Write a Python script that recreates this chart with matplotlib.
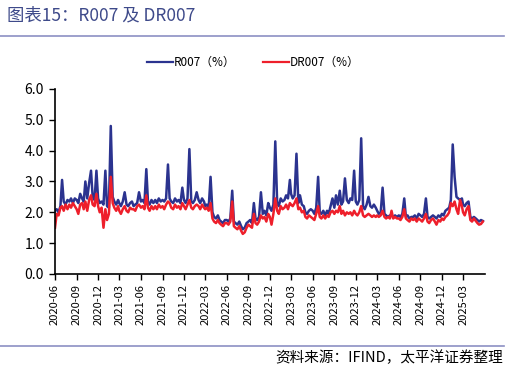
import numpy as np
import pandas as pd
import matplotlib
matplotlib.use('Agg')
import matplotlib.pyplot as plt
import matplotlib.dates as mdates
from matplotlib.lines import Line2D

plt.rcParams['font.family'] = ['Noto Sans CJK SC', 'DejaVu Sans']

# 月份（2020-06 ~ 2025-05），每月4个观测点
months = pd.period_range('2020-06', '2025-05', freq='M')
obs_days = [1, 8, 16, 24]

# R007（%），每行一个月
r007 = [
    2.05, 2.10, 2.00, 2.20,   # 2020-06
    3.05, 2.35, 2.25, 2.40,
    2.35, 2.45, 2.30, 2.45,
    2.40, 2.30, 2.60, 2.45,
    2.35, 3.00, 2.45, 2.95,
    3.35, 2.50, 2.40, 3.35,
    2.45, 2.30, 2.35, 2.25,   # 2020-12
    3.35, 2.20, 2.15, 4.80,
    2.50, 2.35, 2.25, 2.40,
    2.30, 2.20, 2.35, 2.65,
    2.25, 2.20, 2.30, 2.35,
    2.20, 2.25, 2.30, 2.65,
    2.35, 2.40, 2.30, 3.40,   # 2021-06
    2.35, 2.25, 2.40, 2.30,
    2.40, 2.30, 2.45, 2.35,
    2.40, 2.35, 2.45, 3.55,
    2.45, 2.35, 2.30, 2.45,
    2.35, 2.40, 2.30, 2.80,
    2.40, 2.30, 2.45, 4.05,   # 2021-12
    2.35, 2.30, 2.40, 2.65,
    2.40, 2.30, 2.45, 2.35,
    2.20, 2.25, 2.15, 3.15,
    2.00, 1.85, 1.80, 1.90,
    1.75, 1.70, 1.65, 1.75,
    1.75, 1.70, 1.80, 2.70,   # 2022-06
    1.70, 1.65, 1.60, 1.70,
    1.55, 1.45, 1.50, 1.65,
    1.70, 1.75, 1.65, 2.30,
    1.80, 1.75, 1.85, 2.65,
    1.95, 2.05, 1.90, 2.30,
    2.15, 2.05, 2.25, 4.30,   # 2022-12
    2.30, 2.20, 2.45, 2.35,
    2.40, 2.55, 2.45, 3.05,
    2.60, 2.45, 2.55, 3.90,
    2.30, 2.55, 2.25, 2.20,
    2.00, 1.95, 2.05, 2.10,
    2.05, 1.95, 2.15, 3.15,   # 2023-06
    2.00, 1.95, 2.05, 1.90,
    2.05, 1.95, 2.20, 2.45,
    2.15, 2.55, 2.25, 2.70,
    2.25, 2.35, 3.10, 2.40,
    2.30, 2.45, 2.40, 3.35,
    2.35, 2.25, 2.40, 4.40,   # 2023-12
    2.20, 2.10, 2.25, 2.50,
    2.20, 2.15, 2.25, 2.15,
    2.05, 1.95, 2.00, 2.80,
    1.95, 1.90, 1.85, 1.90,
    1.90, 1.85, 1.90, 1.85,
    1.90, 1.85, 1.95, 2.45,   # 2024-06
    1.85, 1.90, 1.80, 1.85,
    1.85, 1.90, 1.80, 1.95,
    1.90, 1.85, 1.95, 2.45,
    1.85, 1.80, 1.85, 1.90,
    1.85, 1.80, 1.90, 1.85,
    1.95, 1.90, 2.05, 2.10,   # 2024-12
    2.15, 2.40, 4.20, 3.15,
    2.50, 2.45, 2.40, 2.45,
    2.25, 2.20, 2.30, 2.35,
    1.85, 1.80, 1.85, 1.80,
    1.75, 1.70, 1.75, 1.72,   # 2025-05
]

# DR007（%）
dr007 = [
    1.50, 1.95, 1.90, 2.15,   # 2020-06
    2.20, 2.05, 2.25, 2.10,
    2.25, 2.15, 2.30, 2.20,
    2.10, 1.95, 2.25, 2.30,
    2.10, 2.35, 2.05, 2.40,
    2.55, 2.25, 2.20, 2.60,
    2.20, 2.00, 2.15, 1.50,   # 2020-12
    2.10, 1.75, 1.95, 3.15,
    2.30, 2.15, 2.05, 2.20,
    2.05, 1.95, 2.10, 2.20,
    2.05, 2.00, 2.15, 2.10,
    2.10, 2.05, 2.20, 2.25,
    2.15, 2.20, 2.10, 2.55,   # 2021-06
    2.15, 2.05, 2.20, 2.10,
    2.20, 2.10, 2.25, 2.15,
    2.20, 2.10, 2.25, 2.35,
    2.30, 2.15, 2.10, 2.25,
    2.15, 2.20, 2.10, 2.30,
    2.20, 2.10, 2.25, 2.40,   # 2021-12
    2.15, 2.10, 2.20, 2.25,
    2.20, 2.10, 2.25, 2.15,
    2.10, 2.15, 2.05, 2.30,
    1.80, 1.70, 1.65, 1.75,
    1.65, 1.60, 1.55, 1.65,
    1.65, 1.60, 1.70, 2.35,   # 2022-06
    1.55, 1.50, 1.45, 1.55,
    1.40, 1.30, 1.35, 1.50,
    1.60, 1.55, 1.50, 1.95,
    1.65, 1.60, 1.70, 1.90,
    1.80, 1.85, 1.70, 1.95,
    1.85, 1.60, 1.95, 2.45,   # 2022-12
    2.05, 1.95, 2.20, 2.10,
    2.15, 2.25, 2.10, 2.30,
    2.25, 2.20, 2.30, 2.45,
    2.10, 2.15, 2.00, 2.05,
    1.85, 1.80, 1.90, 1.85,
    1.80, 1.75, 1.95, 2.20,   # 2023-06
    1.85, 1.80, 1.90, 1.80,
    1.90, 1.85, 2.00, 2.05,
    1.95, 2.05, 2.00, 2.20,
    1.95, 2.05, 1.90, 2.00,
    1.95, 2.00, 1.90, 2.05,
    1.95, 1.90, 2.00, 2.20,   # 2023-12
    1.90, 1.85, 1.90, 1.95,
    1.90, 1.85, 1.90, 1.85,
    1.90, 1.85, 1.90, 2.05,
    1.85, 1.80, 1.85, 1.80,
    2.05, 1.80, 1.85, 1.80,
    1.80, 1.75, 1.85, 2.10,   # 2024-06
    1.80, 1.75, 1.70, 1.80,
    1.75, 1.80, 1.70, 1.80,
    1.75, 1.70, 1.80, 1.95,
    1.70, 1.65, 1.75, 1.80,
    1.70, 1.60, 1.75, 1.70,
    1.80, 1.75, 1.85, 1.90,   # 2024-12
    2.00, 2.30, 2.20, 2.35,
    2.10, 1.95, 2.40, 2.20,
    2.00, 1.90, 2.10, 2.20,
    1.75, 1.70, 1.80, 1.72,
    1.65, 1.60, 1.62, 1.70,   # 2025-05
]

dates = [pd.Timestamp(year=m.year, month=m.month, day=d) for m in months for d in obs_days]

tick_dates = pd.date_range('2020-06-01', '2025-03-01', freq='3MS')

fig = plt.figure(figsize=(5.07, 3.71), dpi=100)
ax = fig.add_axes([0.1085, 0.2615, 0.8485, 0.4987])

c_r = '#2B338F'
c_dr = '#EE1F2B'
ax.plot(dates, r007, color=c_r, lw=1.8)
ax.plot(dates, dr007, color=c_dr, lw=1.8)

ax.set_ylim(0, 6)
ax.set_yticks(np.arange(0, 6.1, 1.0))
ax.yaxis.set_major_formatter(plt.FormatStrFormatter('%.1f'))
ax.set_xlim(pd.Timestamp('2020-06-01'), pd.Timestamp('2025-06-03'))
ax.set_xticks(tick_dates)
ax.xaxis.set_major_formatter(mdates.DateFormatter('%Y-%m'))
for lab in ax.get_xticklabels():
    lab.set_rotation(90)
ax.tick_params(axis='x', direction='out', length=4, width=1, labelsize=8, pad=3)
ax.tick_params(axis='y', direction='out', length=4, width=1, labelsize=10, pad=4)
for s in ['top', 'right']:
    ax.spines[s].set_visible(False)
for s in ['left', 'bottom']:
    ax.spines[s].set_linewidth(1.2)
    ax.spines[s].set_color('black')

handles = [Line2D([], [], color=c_r, lw=1.6), Line2D([], [], color=c_dr, lw=1.6)]
fig.legend(handles, ['R007（%）', 'DR007（%）'], loc='center', bbox_to_anchor=(0.5, 0.832),
           ncol=2, frameon=False, fontsize=8.5, handlelength=2.2, handletextpad=0.1,
           columnspacing=2.3)

# 标题与分隔线
fig.text(0.014, 0.958, '图表15：R007 及 DR007', fontsize=12.5, color='#3E4A8A',
         ha='left', va='center')
fig.add_artist(Line2D([0.0, 0.995], [0.903, 0.903], color='#8C90C4', lw=1.2))
fig.add_artist(Line2D([0.0, 0.995], [0.067, 0.067], color='#8C90C4', lw=1.2))
fig.text(0.992, 0.035, '资料来源：IFIND，太平洋证券整理', fontsize=10.5, color='black',
         ha='right', va='center', style='italic')

fig.savefig('out.png', dpi=100)
